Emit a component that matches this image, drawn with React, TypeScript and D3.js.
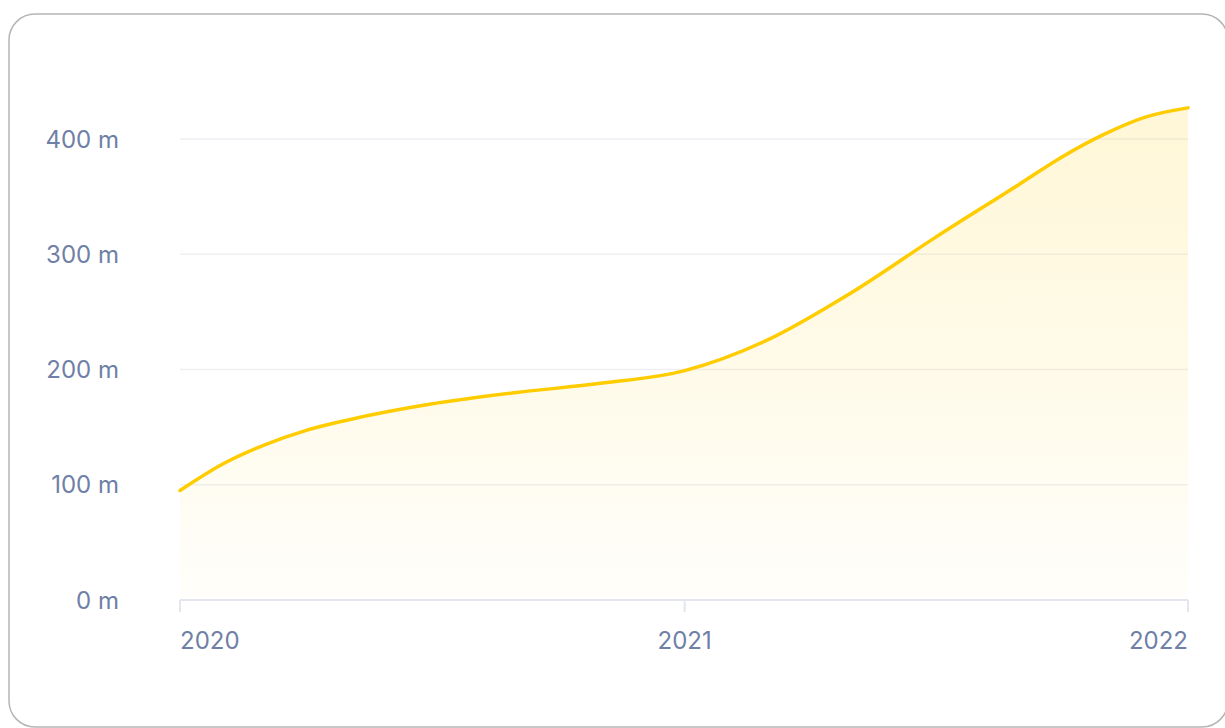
import React from 'react';
import * as d3 from 'd3';

const dates = [
  '2020-01-01', '2020-02-01', '2020-03-01', '2020-04-01', '2020-05-01', '2020-07-01',
  '2020-09-01', '2020-11-01', '2021-01-01', '2021-03-01', '2021-05-01', '2021-07-01',
  '2021-09-01', '2021-10-01', '2021-11-01', '2021-12-01', '2022-01-01',
];
const values = [95, 118, 134, 147, 156, 170, 180, 188, 199, 225, 266, 314, 361, 384, 404, 419, 427];
const yTicks = [0, 100, 200, 300, 400];
const xTicks = ['2020', '2021', '2022'];

const W = 1225;
const H = 728;
const left = 180;
const right = 1188;
const top = 139;
const bottom = 600;

const font = 'Inter, "Noto Sans", sans-serif';
const textColor = '#6f80a6';

const App: React.FC = () => {
  const parse = d3.timeParse('%Y-%m-%d');
  const points = dates.map((d, i) => ({ date: parse(d) as Date, value: values[i] }));

  const x = d3.scaleTime([parse('2020-01-01') as Date, parse('2022-01-01') as Date], [left, right]);
  const y = d3.scaleLinear([0, 400], [bottom, top]);

  const line = d3.line<{ date: Date; value: number }>()
    .x(d => x(d.date))
    .y(d => y(d.value))
    .curve(d3.curveMonotoneX);
  const area = d3.area<{ date: Date; value: number }>()
    .x(d => x(d.date))
    .y0(bottom - 2)
    .y1(d => y(d.value))
    .curve(d3.curveMonotoneX);

  return (
    <svg width={W} height={H} style={{ position: 'absolute', left: 0, top: 0 }}>
      <defs>
        <linearGradient id="fill" x1="0" y1="0" x2="0" y2="1">
          <stop offset="0%" stopColor="#ffcc00" stopOpacity={0.16} />
          <stop offset="100%" stopColor="#ffcc00" stopOpacity={0.02} />
        </linearGradient>
      </defs>
      <rect x={9} y={14} width={1219} height={713} rx={26} fill="#fff" stroke="#b5b5b5" strokeWidth={1.5} />

      {yTicks.map(t => (
        <g key={t}>
          <line x1={left} x2={right} y1={y(t)} y2={y(t)} stroke={t === 0 ? '#e4e6ee' : '#efeff4'} strokeWidth={t === 0 ? 2 : 1.5} />
          <text x={119} y={y(t)} dy="0.36em" textAnchor="end" fontFamily={font} fontSize={24} fill={textColor}>
            {`${t} m`}
          </text>
        </g>
      ))}

      <path d={area(points) ?? ''} fill="url(#fill)" />
      <path d={line(points) ?? ''} fill="none" stroke="#ffcc00" strokeWidth={3.5} strokeLinecap="round" />

      {xTicks.map((t, i) => {
        const xp = x(parse(`${t}-01-01`) as Date);
        const anchor = i === 0 ? 'start' : i === xTicks.length - 1 ? 'end' : 'middle';
        return (
          <g key={t}>
            <line x1={xp} x2={xp} y1={bottom} y2={bottom + 12} stroke="#e4e6ee" strokeWidth={2} />
            <text x={xp} y={649} textAnchor={anchor} fontFamily={font} fontSize={24} fill={textColor}>
              {t}
            </text>
          </g>
        );
      })}
    </svg>
  );
};

export default App;
